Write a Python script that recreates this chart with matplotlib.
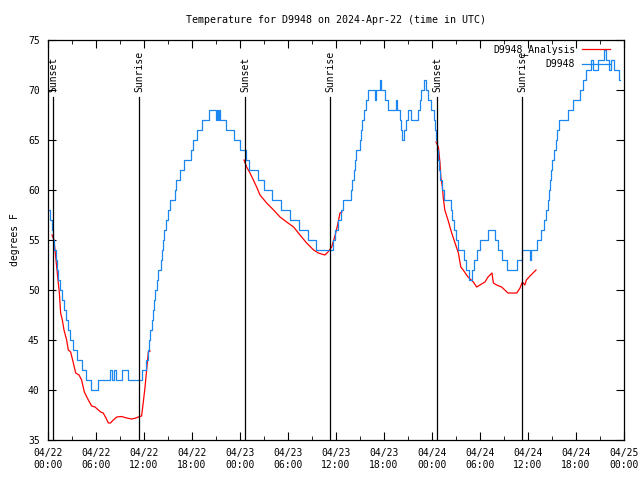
import numpy as np
import matplotlib
matplotlib.use('Agg')
import matplotlib.pyplot as plt
import matplotlib.dates as mdates
from datetime import datetime

# datos (horas desde 2024-04-22 00:00 UTC)
inicio = datetime(2024, 4, 22)

# D9948 observado (escalones de grado entero)
obs_horas = [0.0, 0.3, 0.5, 0.65, 0.8, 0.95, 1.1, 1.3, 1.55, 1.75, 2.0, 2.2, 2.45, 2.7,
             3.1, 3.6, 4.2, 4.7, 5.35, 6.3, 7.75, 7.95, 8.25, 8.45, 9.3, 10.0, 11.7,
             12.2, 12.45, 12.65, 12.8, 12.95, 13.1, 13.25, 13.4, 13.6, 13.8, 14.1, 14.3,
             14.4, 14.55, 14.75, 15.0, 15.3, 15.85, 16.05, 16.5, 17.05, 17.85, 18.1,
             18.6, 19.3, 20.1, 20.95, 21.15, 21.25, 21.4, 21.55, 22.2, 23.3, 24.05,
             24.7, 25.1, 26.3, 27.0, 28.05, 29.15, 30.3, 31.35, 32.5, 33.5, 35.6, 35.9,
             36.2, 36.6, 36.9, 37.9, 38.05, 38.2, 38.4, 38.55, 39.05, 39.15, 39.3,
             39.45, 39.7, 40.0, 40.85, 41.0, 41.45, 41.65, 42.1, 42.45, 43.45, 43.6,
             43.95, 44.15, 44.3, 44.45, 44.7, 44.95, 45.4, 46.25, 46.45, 46.65, 47.0,
             47.3, 47.5, 47.9, 48.2, 48.35, 48.5, 48.65, 48.75, 48.9, 49.05, 49.25,
             49.5, 50.35, 50.55, 50.75, 50.95, 51.25, 52.0, 52.3, 52.6, 52.95, 53.2,
             53.6, 54.0, 54.95, 55.85, 56.2, 56.8, 57.4, 58.6, 59.25, 60.2, 60.4,
             61.15, 61.65, 62.0, 62.25, 62.45, 62.65, 62.8, 62.9, 63.05, 63.25, 63.45,
             63.65, 63.9, 65.0, 65.6, 66.45, 66.9, 67.25, 67.85, 68.1, 68.7, 69.45,
             69.75, 70.1, 70.4, 70.7, 71.4, 71.5]
obs_temp = [58, 57, 56, 55, 54, 53, 52, 51, 50, 49, 48, 47, 46, 45,
            44, 43, 42, 41, 40, 41, 42, 41, 42, 41, 42, 41, 42,
            43, 44, 45, 46, 47, 48, 49, 50, 51, 52, 53, 54,
            55, 56, 57, 58, 59, 60, 61, 62, 63, 64, 65,
            66, 67, 68, 67, 68, 67, 68, 67, 66, 65, 64,
            63, 62, 61, 60, 59, 58, 57, 56, 55, 54, 55, 56,
            57, 58, 59, 60, 61, 62, 63, 64, 65, 66, 67,
            68, 69, 70, 69, 70, 71, 70, 69, 68, 69, 68,
            67, 66, 65, 66, 67, 68, 67, 68, 69, 70, 71,
            70, 69, 68, 67, 66, 65, 64, 63, 62, 61, 60,
            59, 58, 57, 56, 55, 54, 53, 52, 51, 52, 53,
            54, 55, 56, 55, 54, 53, 52, 53, 54, 53, 54,
            55, 56, 57, 58, 59, 60, 61, 62, 63, 64, 65,
            66, 67, 68, 69, 70, 71, 72, 73, 72, 73, 74,
            73, 72, 73, 72, 71, 71]

# D9948_Analysis (solo de noche, nan separa los tramos)
ana_horas = [0.5, 0.75, 1.0, 1.25, 1.42, 1.58, 1.79, 2.0, 2.33, 2.54, 2.83, 3.17, 3.46,
             3.88, 4.2, 4.54, 5.04, 5.46, 5.88, 6.29, 6.58, 6.9, 7.25, 7.54, 7.8, 8.17,
             8.58, 9.2, 9.83, 10.46, 11.0, 11.3, 11.7, 11.9, 12.13, 12.33, 12.54, 12.75,
             np.nan,
             24.5, 24.83, 25.25, 25.67, 26.08, 26.5, 27.33, 28.2, 29.0, 29.83, 30.7,
             31.5, 32.33, 33.2, 33.8, 34.6, 35.0, 35.46, 35.9, 36.2, 36.5, 36.75,
             np.nan,
             48.5, 48.8, 49.0, 49.1, 49.3, 49.4, 49.6, 50.0, 50.46, 50.88, 51.3, 51.6,
             51.9, 52.5, 53.17, 53.58, 54.62, 55.0, 55.5, 55.67, 56.08, 56.7, 57.5,
             58.6, 59.0, 59.3, 59.6, 59.8, 60.25, 61.0]
ana_temp = [55.5, 55.0, 53.0, 51.0, 49.7, 47.7, 47.0, 46.0, 45.0, 44.0, 43.8, 42.7, 41.7,
            41.5, 41.0, 39.8, 39.0, 38.4, 38.3, 38.0, 37.8, 37.7, 37.2, 36.7, 36.7, 37.0,
            37.3, 37.35, 37.2, 37.1, 37.2, 37.3, 37.4, 38.7, 40.3, 42.0, 43.8, 43.9,
            np.nan,
            63.0, 62.3, 61.7, 61.0, 60.3, 59.5, 58.7, 58.0, 57.3, 56.8, 56.3,
            55.5, 54.7, 54.0, 53.7, 53.5, 53.8, 54.3, 55.5, 56.5, 57.7, 57.8,
            np.nan,
            64.8, 64.3, 62.7, 61.3, 60.3, 59.3, 58.0, 57.0, 55.7, 54.7, 53.7, 52.3,
            52.0, 51.3, 50.8, 50.3, 50.8, 51.3, 51.7, 50.7, 50.5, 50.3, 49.7,
            49.7, 50.2, 50.8, 50.5, 51.0, 51.4, 52.0]

# horas de puesta y salida del sol
sol_horas = [0.67, 11.4, 24.67, 35.3, 48.67, 59.28]
sol_etiquetas = ['Sunset', 'Sunrise', 'Sunset', 'Sunrise', 'Sunset', 'Sunrise']

plt.rcParams['font.family'] = ['DejaVu Sans Mono']
plt.rcParams['font.size'] = 7

t0 = mdates.date2num(inicio)
x_obs = t0 + np.array(obs_horas) / 24.0
x_ana = t0 + np.array(ana_horas) / 24.0
x_sol = t0 + np.array(sol_horas) / 24.0

fig = plt.figure(figsize=(6.4, 4.8), dpi=100)
ax = fig.add_axes([48 / 640, 40 / 480, 576 / 640, 400 / 480])

ax.plot(x_ana, ana_temp, color='#ff0000', lw=0.9, label='D9948_Analysis')
ax.plot(x_obs, obs_temp, color='#1a86f0', lw=0.9, drawstyle='steps-post', label='D9948')

for xs, et in zip(x_sol, sol_etiquetas):
    ax.axvline(xs, ymin=0, ymax=0.857, color='black', lw=0.9)
    ax.text(xs, 69.8, et, rotation=90, ha='center', va='bottom', fontsize=7)

ax.set_xlim(t0, t0 + 3)
ax.set_ylim(35, 75)
ax.set_yticks(range(35, 80, 5))
ax.xaxis.set_major_locator(mdates.HourLocator(byhour=[0, 6, 12, 18]))
ax.xaxis.set_minor_locator(mdates.HourLocator(byhour=[3, 9, 15, 21]))
ax.xaxis.set_major_formatter(mdates.DateFormatter('%m/%d\n%H:%M'))
ax.tick_params(which='both', direction='in', top=True, right=True, labelsize=7, pad=6)
ax.tick_params(which='major', length=6)
ax.tick_params(which='minor', length=3)
for s in ax.spines.values():
    s.set_linewidth(0.9)

ax.set_title('Temperature for D9948 on 2024-Apr-22 (time in UTC)', fontsize=7.2, pad=12)
ax.set_ylabel('degrees F', fontsize=7, labelpad=6)

ax.legend(loc='upper right', bbox_to_anchor=(0.976, 0.99), frameon=False,
          markerfirst=False, handlelength=2.9, borderaxespad=0, borderpad=0,
          labelspacing=0.45, fontsize=7, handletextpad=0.7)

plt.savefig('out.png', dpi=100)
